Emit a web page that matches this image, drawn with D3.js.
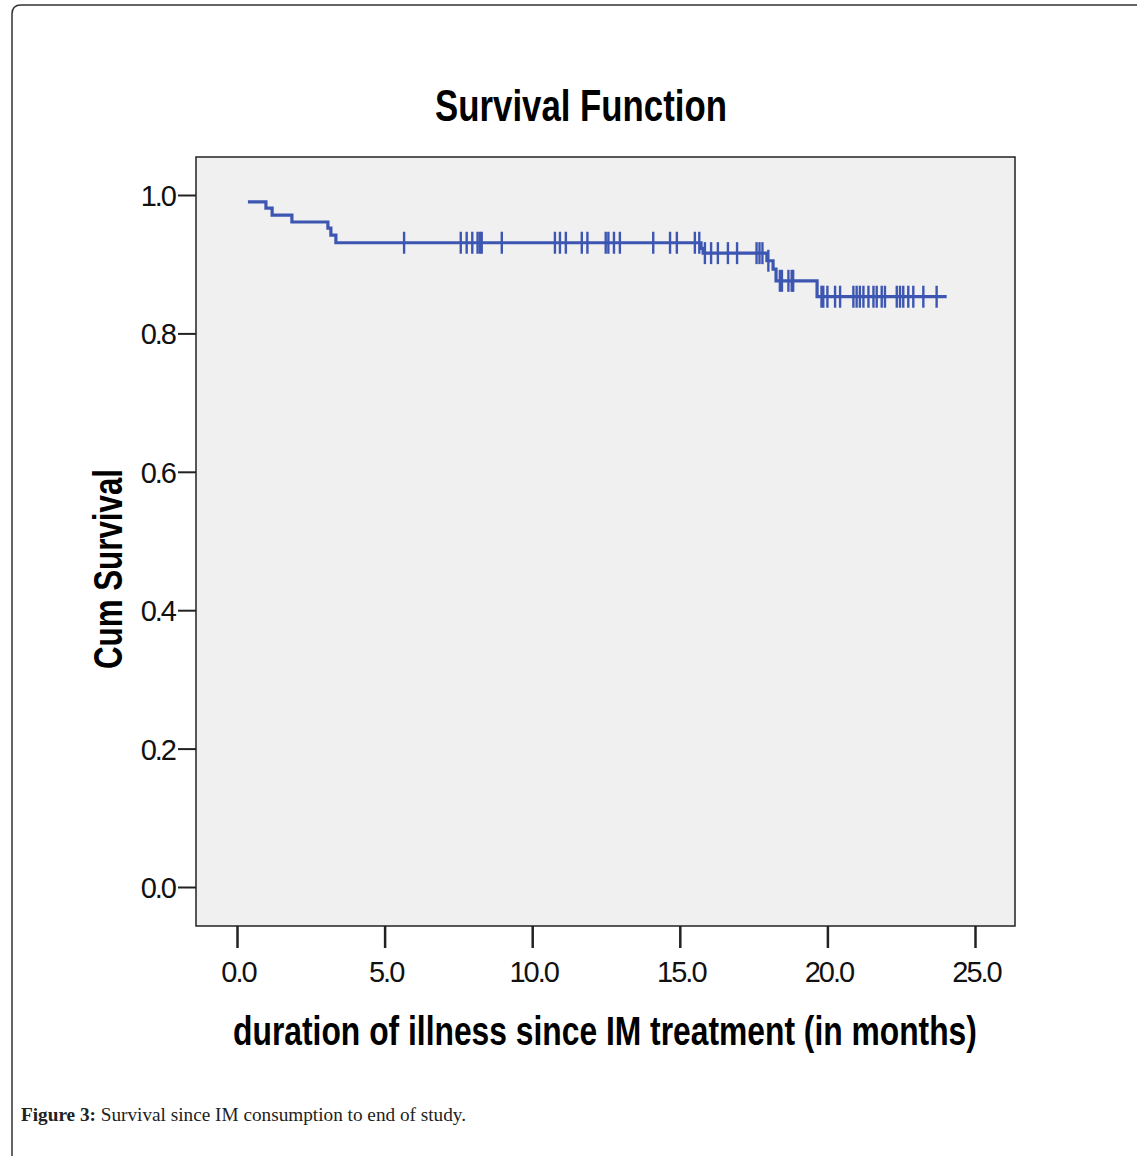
<!DOCTYPE html>
<html>
<head>
<meta charset="utf-8">
<script src="https://cdn.jsdelivr.net/npm/d3@7"></script>
<style>
  body { margin: 0; background: #fff; }
  svg { display: block; }
</style>
</head>
<body>
<svg id="chart"></svg>
<script>
// Kaplan-Meier steps (time in months, survival after the step)
var eventTimes = [0.37, 0.98, 1.19, 1.86, 3.08, 3.18, 3.35, 15.72, 15.79, 17.95, 18.16, 18.26, 19.65];
var eventSurv  = [0.990, 0.981, 0.971, 0.961, 0.952, 0.942, 0.931, 0.923, 0.916, 0.905, 0.893, 0.876, 0.853];
var lastTime = 24.04;

// censored cases (tick marks)
var censorTimes = [5.66, 7.58, 7.78, 7.97, 8.15, 8.23, 8.29, 8.97, 10.77, 10.94, 11.14, 11.68, 11.87,
  12.49, 12.58, 12.77, 12.97, 14.10, 14.67, 14.90, 15.51, 15.66,
  15.85, 16.06, 16.29, 16.63, 16.94, 17.60, 17.70, 17.80, 18.00,
  18.39, 18.46, 18.68, 18.79, 18.84,
  19.80, 19.86, 20.00, 20.26, 20.43, 20.88, 20.99, 21.10, 21.22, 21.39, 21.56, 21.67, 21.84, 21.95,
  22.35, 22.46, 22.57, 22.74, 22.91, 23.25, 23.70];

var xTicks = [0, 5, 10, 15, 20, 25];
var yTicks = [0, 0.2, 0.4, 0.6, 0.8, 1.0];

var W = 1137, H = 1156;
var svg = d3.select("#chart").attr("width", W).attr("height", H);

// page frame
svg.append("path")
  .attr("d", "M12,1156 L12,14 Q12,5 21,5 L1137,5")
  .attr("fill", "none")
  .attr("stroke", "#333")
  .attr("stroke-width", 1.5);

var frame = { left: 196, right: 1015, top: 157, bottom: 926 };

var x = d3.scaleLinear().domain([0, 25]).range([237, 975]);
var y = d3.scaleLinear().domain([0, 1]).range([887, 195]);

// plot area
svg.append("rect")
  .attr("x", frame.left).attr("y", frame.top)
  .attr("width", frame.right - frame.left)
  .attr("height", frame.bottom - frame.top)
  .attr("fill", "#f0f0f0")
  .attr("stroke", "#222")
  .attr("stroke-width", 1.5);

// y axis
var yAxis = d3.axisLeft(y).tickValues(yTicks).tickSize(18).tickPadding(3)
  .tickFormat(d3.format(".1f"));
var gy = svg.append("g").attr("transform", "translate(" + frame.left + ",0)").call(yAxis);
gy.select(".domain").remove();
gy.selectAll(".tick line").attr("stroke", "#222").attr("stroke-width", 2);
gy.selectAll(".tick text")
  .attr("font-family", "Liberation Sans, Arial, sans-serif")
  .attr("font-size", 29)
  .attr("letter-spacing", -2)
  .attr("fill", "#111")
  .attr("dy", "0.36em");

// x axis
var xAxis = d3.axisBottom(x).tickValues(xTicks).tickSize(22).tickPadding(13)
  .tickFormat(d3.format(".1f"));
var gx = svg.append("g").attr("transform", "translate(0," + frame.bottom + ")").call(xAxis);
gx.select(".domain").remove();
gx.selectAll(".tick line").attr("stroke", "#222").attr("stroke-width", 2.5);
gx.selectAll(".tick text")
  .attr("font-family", "Liberation Sans, Arial, sans-serif")
  .attr("font-size", 29)
  .attr("letter-spacing", -2)
  .attr("dx", 1)
  .attr("fill", "#111");

// bold condensed label: squeeze horizontally to the width seen in the picture
function condensed(txt, cx, cy, size, width, rotate) {
  var t = svg.append("text")
    .attr("text-anchor", "middle")
    .attr("font-family", "Liberation Sans, Arial, sans-serif")
    .attr("font-weight", "bold")
    .attr("font-size", size)
    .attr("fill", "#000")
    .text(txt);
  var sx = width / t.node().getComputedTextLength();
  t.attr("transform", "translate(" + cx + "," + cy + ")" + (rotate ? " rotate(-90)" : "") +
    " scale(" + sx + ",1)");
  return t;
}

condensed("Survival Function", 581, 121, 44, 292, false);
condensed("Cum Survival", 122, 569, 41, 200, true);
condensed("duration of illness since IM treatment (in months)", 605, 1045, 40, 744, false);

// survival curve
var pts = eventTimes.map(function(t, i) { return [t, eventSurv[i]]; });
pts.push([lastTime, eventSurv[eventSurv.length - 1]]);

var line = d3.line()
  .x(function(d) { return x(d[0]); })
  .y(function(d) { return y(d[1]); })
  .curve(d3.curveStepAfter);

var blue = "#3d56b2";

svg.append("path")
  .datum(pts)
  .attr("d", line)
  .attr("fill", "none")
  .attr("stroke", blue)
  .attr("stroke-width", 3.2);

function survAt(t) {
  var s = eventSurv[0];
  eventTimes.forEach(function(et, i) { if (et <= t) s = eventSurv[i]; });
  return s;
}

svg.selectAll(".censor")
  .data(censorTimes)
  .enter()
  .append("line")
  .classed("censor", true)
  .attr("x1", function(d) { return x(d); })
  .attr("x2", function(d) { return x(d); })
  .attr("y1", function(d) { return y(survAt(d)) - 11; })
  .attr("y2", function(d) { return y(survAt(d)) + 11; })
  .attr("stroke", blue)
  .attr("stroke-width", 2.4);

// caption
var cap = svg.append("text")
  .attr("x", 21).attr("y", 1121)
  .attr("font-family", "Liberation Serif, Times New Roman, serif")
  .attr("font-size", 19)
  .attr("fill", "#222")
  .attr("textLength", 445)
  .attr("lengthAdjust", "spacingAndGlyphs");
cap.append("tspan").attr("font-weight", "bold").text("Figure 3:");
cap.append("tspan").text(" Survival since IM consumption to end of study.");
</script>
</body>
</html>
